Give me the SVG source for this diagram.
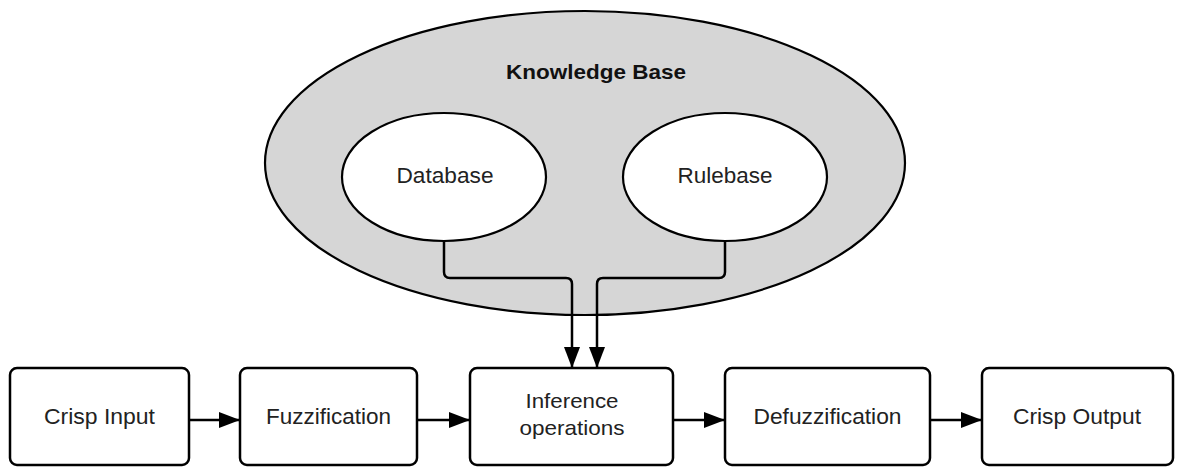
<svg xmlns="http://www.w3.org/2000/svg" width="1177" height="468" viewBox="0 0 1177 468">
  <style>
    .box { fill: #ffffff; stroke: #000000; stroke-width: 2.5; }
    .inner { fill: #ffffff; stroke: #000000; stroke-width: 2.2; }
    .outer { fill: #d6d6d6; stroke: #000000; stroke-width: 2.2; }
    .lbl { font-family: "Liberation Sans", Arial, sans-serif; font-size: 22.5px; fill: #222222; text-anchor: middle; }
    .lbl2 { font-family: "Liberation Sans", Arial, sans-serif; font-size: 21px; fill: #222222; text-anchor: middle; }
    .title { font-family: "Liberation Sans", Arial, sans-serif; font-size: 21px; font-weight: bold; fill: #111111; text-anchor: middle; }
    .conn { fill: none; stroke: #000000; stroke-width: 2.5; }
  </style>
  <defs>
    <marker id="arrow" markerUnits="userSpaceOnUse" markerWidth="21" markerHeight="16" refX="21" refY="8" orient="auto">
      <path d="M0,0 L21,8 L0,16 Z" fill="#000000"/>
    </marker>
  </defs>
  <rect width="1177" height="468" fill="#ffffff"/>

  <g id="knowledge-base">
    <ellipse class="outer" cx="585" cy="163" rx="320" ry="152"/>
    <text class="title" x="596" y="79" textLength="180" lengthAdjust="spacingAndGlyphs">Knowledge Base</text>
  </g>
  <g id="database">
    <ellipse class="inner" cx="444" cy="177" rx="102" ry="64"/>
    <text class="lbl" x="445" y="183" textLength="97" lengthAdjust="spacingAndGlyphs">Database</text>
  </g>
  <g id="rulebase">
    <ellipse class="inner" cx="725" cy="177" rx="102" ry="64"/>
    <text class="lbl" x="725" y="183" textLength="95" lengthAdjust="spacingAndGlyphs">Rulebase</text>
  </g>

  <g id="connectors">
    <path class="conn" d="M444,241 V272 Q444,278 450,278 H566 Q572,278 572,284 V368" marker-end="url(#arrow)"/>
    <path class="conn" d="M725,241 V272 Q725,278 719,278 H603 Q597,278 597,284 V368" marker-end="url(#arrow)"/>
    <path class="conn" d="M189,420 H240" marker-end="url(#arrow)"/>
    <path class="conn" d="M417,420 H470" marker-end="url(#arrow)"/>
    <path class="conn" d="M673,420 H725" marker-end="url(#arrow)"/>
    <path class="conn" d="M930,420 H982" marker-end="url(#arrow)"/>
  </g>

  <g id="crisp-input">
    <rect class="box" x="10" y="368" width="179" height="97" rx="7"/>
    <text class="lbl" x="99.5" y="424" textLength="111" lengthAdjust="spacingAndGlyphs">Crisp Input</text>
  </g>
  <g id="fuzzification">
    <rect class="box" x="240" y="368" width="177" height="97" rx="7"/>
    <text class="lbl" x="328.5" y="424" textLength="125" lengthAdjust="spacingAndGlyphs">Fuzzification</text>
  </g>
  <g id="inference">
    <rect class="box" x="470" y="368" width="203" height="97" rx="7"/>
    <text class="lbl2" x="572" y="408" textLength="93" lengthAdjust="spacingAndGlyphs">Inference</text>
    <text class="lbl2" x="572" y="435" textLength="105" lengthAdjust="spacingAndGlyphs">operations</text>
  </g>
  <g id="defuzzification">
    <rect class="box" x="725" y="368" width="205" height="97" rx="7"/>
    <text class="lbl" x="827.5" y="424" textLength="148" lengthAdjust="spacingAndGlyphs">Defuzzification</text>
  </g>
  <g id="crisp-output">
    <rect class="box" x="982" y="368" width="191" height="97" rx="7"/>
    <text class="lbl" x="1077" y="424" textLength="128" lengthAdjust="spacingAndGlyphs">Crisp Output</text>
  </g>
</svg>
